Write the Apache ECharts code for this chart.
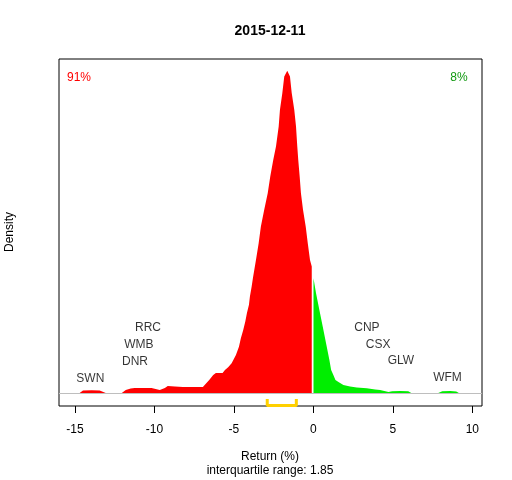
<!DOCTYPE html>
<html>
<head>
<meta charset="utf-8">
<script src="https://cdn.jsdelivr.net/npm/echarts@6/dist/echarts.min.js"></script>
<style>
    html, body {margin: 0; padding: 0; background: #fff;}
    #main {width: 512px; height: 480px;}
</style>
</head>
<body>
<div id="main"></div>
<script>
// 日期 / 分位
let chartTitle = '2015-12-11';
let shareDown = '91%';
let shareUp = '8%';
let iqrText = 'interquartile range: 1.85';
let quartiles = [-2.90, -1.07];
let xTicks = [-15, -10, -5, 0, 5, 10];

// 负收益密度 (红色)
let redX = [-15.02, -14.70, -14.49, -13.94, -13.44, -13.06, -12.49, -12.05, -11.80, -11.49, -11.24, -10.18,
    -9.66, -9.34, -9.16, -8.71, -8.21, -6.95, -6.89, -6.55, -6.30, -6.13, -5.71, -5.56, -5.36, -5.14,
    -4.87, -4.68, -4.56, -4.41, -4.28, -4.18, -4.05, -3.99, -3.88, -3.80, -3.61, -3.44, -3.30, -3.09,
    -2.87, -2.71, -2.52, -2.35, -2.18, -2.10, -1.95, -1.83, -1.64, -1.47, -1.36, -1.20, -1.09, -1.01,
    -0.95, -0.86, -0.78, -0.65, -0.48, -0.35, -0.21, -0.10];
let redY = [0, 0.0003, 0.0027, 0.0031, 0.0027, 0.0003, 0, 0.0003, 0.0034, 0.0049, 0.0054, 0.0054,
    0.0034, 0.0054, 0.0075, 0.0070, 0.0065, 0.0065, 0.0085, 0.0137, 0.0188, 0.0209, 0.0209, 0.0240, 0.0267, 0.0308,
    0.0394, 0.0479, 0.0565, 0.0651, 0.0736, 0.0822, 0.0908, 0.0993, 0.1096, 0.1185, 0.1370, 0.1542, 0.1713, 0.1884,
    0.2056, 0.2227, 0.2398, 0.2535, 0.2741, 0.2912, 0.3084, 0.3255, 0.3313, 0.3255, 0.3084, 0.2912, 0.2741, 0.2535,
    0.2398, 0.2227, 0.2056, 0.1884, 0.1713, 0.1542, 0.1370, 0.1301];

// 正收益密度 (绿色)
let greenX = [0.01, 0.17, 0.38, 0.59, 0.80, 1.01, 1.12, 1.26, 1.39, 1.58, 1.89, 2.31, 2.73, 3.36, 3.89,
    4.20, 4.73, 4.83, 4.96, 5.46, 5.97, 6.16, 6.73, 7.86, 8.11, 8.61, 8.99, 9.18, 9.56];
let greenY = [0.1182, 0.1028, 0.0856, 0.0685, 0.0514, 0.0342, 0.0240, 0.0188, 0.0137, 0.0116, 0.0085, 0.0070,
    0.0058, 0.0051, 0.0039, 0.0034, 0.0013, 0.0003, 0.0021, 0.0024, 0.0021, 0.0003, 0, 0.0003, 0.0021, 0.0024,
    0.0018, 0, 0];

// 股票标签
let tickers = ['SWN', 'DNR', 'WMB', 'RRC', 'CNP', 'CSX', 'GLW', 'WFM'];
let tickerX = [-14.03, -11.22, -10.97, -10.40, 3.37, 4.08, 5.51, 8.44];
let tickerY = [0.0154, 0.0325, 0.0504, 0.0678, 0.0678, 0.0504, 0.0332, 0.0164];

const FONT = 'Liberation Sans, Arial, sans-serif';

function zip(xs, ys) {
    let out = [];
    for (let i = 0; i < xs.length; i++) out.push([xs[i], ys[i]]);
    return out;
}

let myChart = echarts.init(document.getElementById('main'));

let bracket = [
    [quartiles[0], -0.0059], [quartiles[0], -0.0127],
    [quartiles[1], -0.0127], [quartiles[1], -0.0059]
];

let option = {
    animation: false,
    backgroundColor: '#fff',
    textStyle: {fontFamily: FONT},
    grid: {
        left: 59, right: 30, top: 59, bottom: 74,
        show: true, borderColor: '#000', borderWidth: 1, backgroundColor: 'transparent'
    },
    xAxis: {
        type: 'value',
        min: -16.0,
        max: 10.61,
        axisLine: {show: false, onZero: false},
        splitLine: {show: false},
        axisTick: {show: true, inside: false, length: 7, lineStyle: {color: '#000'}, customValues: xTicks},
        axisLabel: {color: '#000', fontSize: 12, margin: 18, fontFamily: FONT, customValues: xTicks}
    },
    yAxis: {
        type: 'value',
        min: -0.0131,
        max: 0.3434,
        show: false
    },
    graphic: [
        {type: 'text', x: 270, y: 31, style: {text: chartTitle, font: 'bold 14px ' + FONT, fill: '#000', align: 'center', verticalAlign: 'middle'}},
        {type: 'text', x: 79, y: 78, style: {text: shareDown, font: '12px ' + FONT, fill: '#ff0000', align: 'center', verticalAlign: 'middle'}},
        {type: 'text', x: 459, y: 78, style: {text: shareUp, font: '12px ' + FONT, fill: '#119911', align: 'center', verticalAlign: 'middle'}},
        {type: 'text', x: 270, y: 457, style: {text: 'Return (%)', font: '12px ' + FONT, fill: '#000', align: 'center', verticalAlign: 'middle'}},
        {type: 'text', x: 270, y: 471, style: {text: iqrText, font: '12px ' + FONT, fill: '#000', align: 'center', verticalAlign: 'middle'}},
        {type: 'text', x: 10, y: 232, rotation: Math.PI / 2, style: {text: 'Density', font: '12px ' + FONT, fill: '#000', align: 'center', verticalAlign: 'middle'}}
    ],
    series: [
        {
            type: 'line',
            data: zip(redX, redY),
            showSymbol: false,
            lineStyle: {width: 0},
            itemStyle: {color: '#ff0000'},
            areaStyle: {color: '#ff0000', opacity: 1},
            silent: true,
            markLine: {
                symbol: 'none',
                silent: true,
                label: {show: false},
                lineStyle: {color: '#bebebe', type: 'solid', width: 1},
                data: [{yAxis: 0}]
            }
        },
        {
            type: 'line',
            data: zip(greenX, greenY),
            showSymbol: false,
            lineStyle: {width: 0},
            itemStyle: {color: '#00ee00'},
            areaStyle: {color: '#00ee00', opacity: 1},
            silent: true
        },
        {
            type: 'line',
            data: bracket,
            showSymbol: false,
            clip: false,
            lineStyle: {color: '#ffd000', width: 3},
            z: 5,
            silent: true
        },
        {
            type: 'scatter',
            data: tickers.map(function (t, i) { return [tickerX[i], tickerY[i], t]; }),
            symbolSize: 0,
            silent: true,
            label: {
                show: true,
                position: 'inside',
                formatter: function (p) { return p.data[2]; },
                color: '#000',
                fontSize: 12,
                fontFamily: FONT
            }
        }
    ]
};
myChart.setOption(option);
</script>
</body>
</html>
